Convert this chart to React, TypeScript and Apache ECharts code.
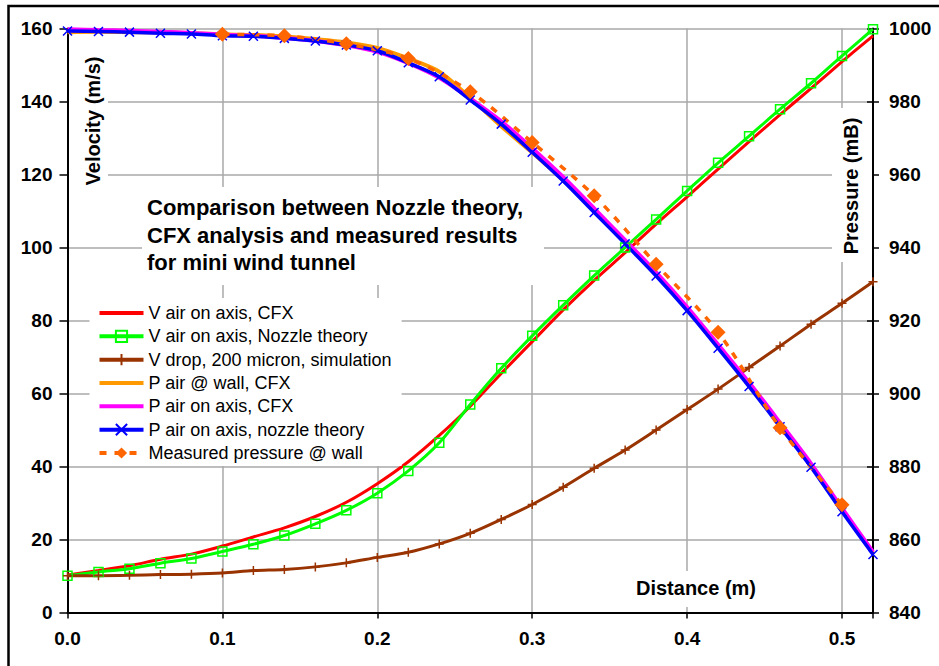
import React, { useEffect, useRef } from "react";
import * as echarts from "echarts";

// Distance along the tunnel (m), one station every 20 mm
const distance = [
  0, 0.02, 0.04, 0.06, 0.08, 0.1, 0.12, 0.14, 0.16, 0.18, 0.2, 0.22, 0.24,
  0.26, 0.28, 0.3, 0.32, 0.34, 0.36, 0.38, 0.4, 0.42, 0.44, 0.46, 0.48, 0.5,
  0.52,
];

// Velocities (m/s)
const vAxisCfx = [
  10.3, 11.5, 12.8, 14.6, 16.0, 18.2, 20.7, 23.2, 26.3, 30.2, 35.3, 41.3,
  48.5, 56.5, 65.5, 74.2, 82.9, 91.0, 98.6, 106.4, 113.9, 121.5, 129.0, 136.4,
  143.6, 150.9, 158.0,
];
const vAxisNozzle = [
  10.1, 11.1, 12.0, 13.5, 14.8, 16.7, 18.7, 21.1, 24.3, 28.0, 32.7, 38.8,
  46.5, 57.0, 66.9, 75.8, 84.2, 92.3, 100.0, 107.7, 115.5, 123.2, 130.5,
  137.9, 145.0, 152.5, 159.8,
];
const vDrop200 = [
  10.1, 10.1, 10.2, 10.4, 10.5, 10.8, 11.5, 11.8, 12.5, 13.6, 15.1, 16.5,
  18.8, 21.7, 25.5, 29.6, 34.3, 39.5, 44.5, 50.0, 55.6, 61.2, 67.1, 73.0,
  79.0, 84.7, 90.6,
];

// Pressures (mB)
const pWallCfx = [
  999.0, 999.1, 999.0, 998.9, 998.7, 998.4, 998.2, 997.8, 997.1, 996.2, 994.7,
  991.8, 988.2, 981.0, 973.2, 966.0, 958.4, 950.0, 941.4, 932.6, 923.2, 912.9,
  902.4, 891.4, 880.3, 868.1, 856.3,
];
const pAxisCfx = [
  999.8, 999.6, 999.4, 999.1, 998.8, 998.3, 998.0, 997.4, 996.6, 995.4, 993.6,
  990.5, 986.5, 980.8, 974.6, 967.2, 959.3, 950.7, 942.0, 933.2, 923.7, 913.4,
  903.0, 892.0, 880.8, 868.6, 856.6,
];
const pAxisNozzle = [
  999.3, 999.2, 999.0, 998.7, 998.5, 998.0, 997.9, 997.3, 996.6, 995.5, 993.9,
  990.6, 986.8, 980.4, 973.8, 966.1, 958.2, 949.6, 941.0, 932.2, 922.7, 912.4,
  901.9, 890.9, 879.8, 867.6, 855.9,
];

// Wall tappings
const measuredDistance = [0.1, 0.14, 0.18, 0.22, 0.26, 0.3, 0.34, 0.38, 0.42, 0.46, 0.5];
const measuredPressure = [
  998.4, 998.0, 995.8, 991.8, 982.7, 968.8, 954.2, 935.4, 916.8, 890.6, 869.5,
];

const seriesNames = [
  "V air on axis, CFX",
  "V air on axis, Nozzle theory",
  "V drop, 200 micron, simulation",
  "P air @ wall, CFX",
  "P air on axis, CFX",
  "P air on axis, nozzle theory",
  "Measured pressure @ wall",
];

const titleLines = [
  "Comparison between Nozzle theory,",
  "CFX analysis and measured results",
  "for mini wind tunnel",
];

const FONT = "'Liberation Sans', Arial, Helvetica, sans-serif";

const pairs = (xs: number[], ys: number[]) => xs.map((x, i) => [x, ys[i]]);

// plain lines carry no marker, so their legend keys show the line only
const plainLines = new Set([seriesNames[0], seriesNames[3], seriesNames[4]]);

export default function App() {
  const ref = useRef<HTMLDivElement>(null);

  useEffect(() => {
    if (!ref.current) return;
    const chart = echarts.init(ref.current, undefined, { renderer: "svg" });

    const tickLabel = {
      fontFamily: FONT,
      fontWeight: "bold" as const,
      fontSize: 19,
      color: "#000",
    };

    const option: any = {
      animation: false,
      backgroundColor: "#fff",
      grid: { left: 67.5, top: 28.5, width: 805.5, height: 584, containLabel: false },
      xAxis: {
        type: "value",
        min: 0,
        max: 0.52,
        interval: 0.1,
        axisLine: { show: true, onZero: false, lineStyle: { color: "#000", width: 2 } },
        axisTick: { show: true, length: 6, lineStyle: { color: "#000", width: 1.5 } },
        axisLabel: {
          ...tickLabel,
          margin: 16,
          formatter: (v: number) =>
            Math.abs(v * 10 - Math.round(v * 10)) < 1e-6 ? v.toFixed(1) : "",
        },
        splitLine: { show: true, lineStyle: { color: "#a8a8a8", width: 1.5 } },
      },
      yAxis: [
        {
          type: "value",
          position: "left",
          min: 0,
          max: 160,
          interval: 20,
          axisLine: { show: true, lineStyle: { color: "#000", width: 2 } },
          axisTick: { show: true, length: 8, lineStyle: { color: "#000", width: 1.5 } },
          axisLabel: { ...tickLabel, margin: 15, formatter: (v: number) => String(v) },
          splitLine: { show: true, lineStyle: { color: "#a8a8a8", width: 1.5 } },
        },
        {
          type: "value",
          position: "right",
          min: 840,
          max: 1000,
          interval: 20,
          axisLine: { show: true, lineStyle: { color: "#000", width: 2 } },
          axisTick: { show: true, length: 6, lineStyle: { color: "#000", width: 1.5 } },
          axisLabel: { ...tickLabel, margin: 16, formatter: (v: number) => String(v) },
          splitLine: { show: false },
        },
        {
          // inner half of the crossing ticks on the pressure axis
          type: "value",
          position: "right",
          min: 840,
          max: 1000,
          interval: 20,
          axisLine: { show: false },
          axisTick: { show: true, inside: true, length: 6, lineStyle: { color: "#000", width: 1.5 } },
          axisLabel: { show: false },
          splitLine: { show: false },
        },
      ],
      legend: {
        orient: "vertical",
        left: 89.5,
        top: 298,
        padding: [6, 10, 4, 8],
        backgroundColor: "#fff",
        itemWidth: 44,
        itemHeight: 14,
        itemGap: 5.33,
        lineStyle: { width: 4 },
        data: seriesNames.map((name) =>
          plainLines.has(name)
            ? { name, itemStyle: { color: "rgba(0,0,0,0)", borderWidth: 0, opacity: 0 } }
            : { name }
        ),
        textStyle: { fontFamily: FONT, fontSize: 18, color: "#000", lineHeight: 18 },
      },
      series: [
        {
          name: seriesNames[0],
          type: "line",
          yAxisIndex: 0,
          data: pairs(distance, vAxisCfx),
          smooth: 0.3,
          symbol: "none",
          lineStyle: { color: "#FF0000", width: 3 },
          itemStyle: { color: "#FF0000" },
        },
        {
          name: seriesNames[1],
          type: "line",
          yAxisIndex: 0,
          data: pairs(distance, vAxisNozzle),
          smooth: 0.3,
          symbol: "rect",
          symbolSize: 9,
          lineStyle: { color: "#00FF00", width: 3 },
          itemStyle: { color: "rgba(255,255,255,0)", borderColor: "#00FF00", borderWidth: 1.5 },
        },
        {
          name: seriesNames[2],
          type: "line",
          yAxisIndex: 0,
          data: pairs(distance, vDrop200),
          smooth: 0.3,
          symbol: "path://M5,0L5,10M0,5L10,5",
          symbolSize: 9,
          lineStyle: { color: "#993300", width: 3 },
          itemStyle: { color: "rgba(255,255,255,0)", borderColor: "#993300", borderWidth: 1.5 },
        },
        {
          name: seriesNames[3],
          type: "line",
          yAxisIndex: 1,
          data: pairs(distance, pWallCfx),
          smooth: 0.3,
          symbol: "none",
          lineStyle: { color: "#FF9900", width: 4 },
          itemStyle: { color: "#FF9900" },
        },
        {
          name: seriesNames[4],
          type: "line",
          yAxisIndex: 1,
          data: pairs(distance, pAxisCfx),
          smooth: 0.3,
          symbol: "none",
          lineStyle: { color: "#FF00FF", width: 4 },
          itemStyle: { color: "#FF00FF" },
        },
        {
          name: seriesNames[5],
          type: "line",
          yAxisIndex: 1,
          data: pairs(distance, pAxisNozzle),
          smooth: 0.3,
          symbol: "path://M0,0L10,10M10,0L0,10",
          symbolSize: 9,
          lineStyle: { color: "#0000FF", width: 3.5 },
          itemStyle: { color: "rgba(255,255,255,0)", borderColor: "#0000FF", borderWidth: 1.5 },
        },
        {
          name: seriesNames[6],
          type: "line",
          yAxisIndex: 1,
          data: pairs(measuredDistance, measuredPressure),
          smooth: 0.3,
          symbol: "diamond",
          symbolSize: 15,
          lineStyle: { color: "#FF6600", width: 3.5, type: [7, 8] },
          itemStyle: { color: "#FF6600" },
        },
      ],
      graphic: [
        // chart title on a white panel
        { type: "rect", z: 10, shape: { x: 142, y: 187, width: 402, height: 98 }, style: { fill: "#fff" } },
        {
          type: "text",
          z: 11,
          x: 147,
          y: 194,
          style: {
            text: titleLines.join("\n"),
            fontFamily: FONT,
            fontWeight: "bold",
            fontSize: 22,
            lineHeight: 27.5,
            fill: "#000",
            textVerticalAlign: "top",
          },
        },
        // axis titles on white panels
        { type: "rect", z: 10, shape: { x: 69, y: 40, width: 39, height: 155 }, style: { fill: "#fff" } },
        {
          type: "text",
          z: 11,
          x: 92.5,
          y: 121,
          rotation: Math.PI / 2,
          style: {
            text: "Velocity (m/s)",
            fontFamily: FONT,
            fontWeight: "bold",
            fontSize: 20,
            fill: "#000",
            align: "center",
            verticalAlign: "middle",
          },
        },
        { type: "rect", z: 10, shape: { x: 832, y: 108, width: 40, height: 154 }, style: { fill: "#fff" } },
        {
          type: "text",
          z: 11,
          x: 851,
          y: 186,
          rotation: Math.PI / 2,
          style: {
            text: "Pressure (mB)",
            fontFamily: FONT,
            fontWeight: "bold",
            fontSize: 20,
            fill: "#000",
            align: "center",
            verticalAlign: "middle",
          },
        },
        { type: "rect", z: 10, shape: { x: 628, y: 571, width: 140, height: 36 }, style: { fill: "#fff" } },
        {
          type: "text",
          z: 11,
          x: 696,
          y: 588,
          style: {
            text: "Distance (m)",
            fontFamily: FONT,
            fontWeight: "bold",
            fontSize: 20,
            fill: "#000",
            align: "center",
            verticalAlign: "middle",
          },
        },
        // outer frame
        {
          type: "rect",
          z: 20,
          shape: { x: 8.5, y: 6, width: 960, height: 700 },
          style: { fill: "none", stroke: "#000", lineWidth: 2.5 },
        },
      ],
    };

    chart.setOption(option);
    return () => chart.dispose();
  }, []);

  return (
    <div
      ref={ref}
      style={{ position: "fixed", left: 0, top: 0, width: 939, height: 666 }}
    />
  );
}
